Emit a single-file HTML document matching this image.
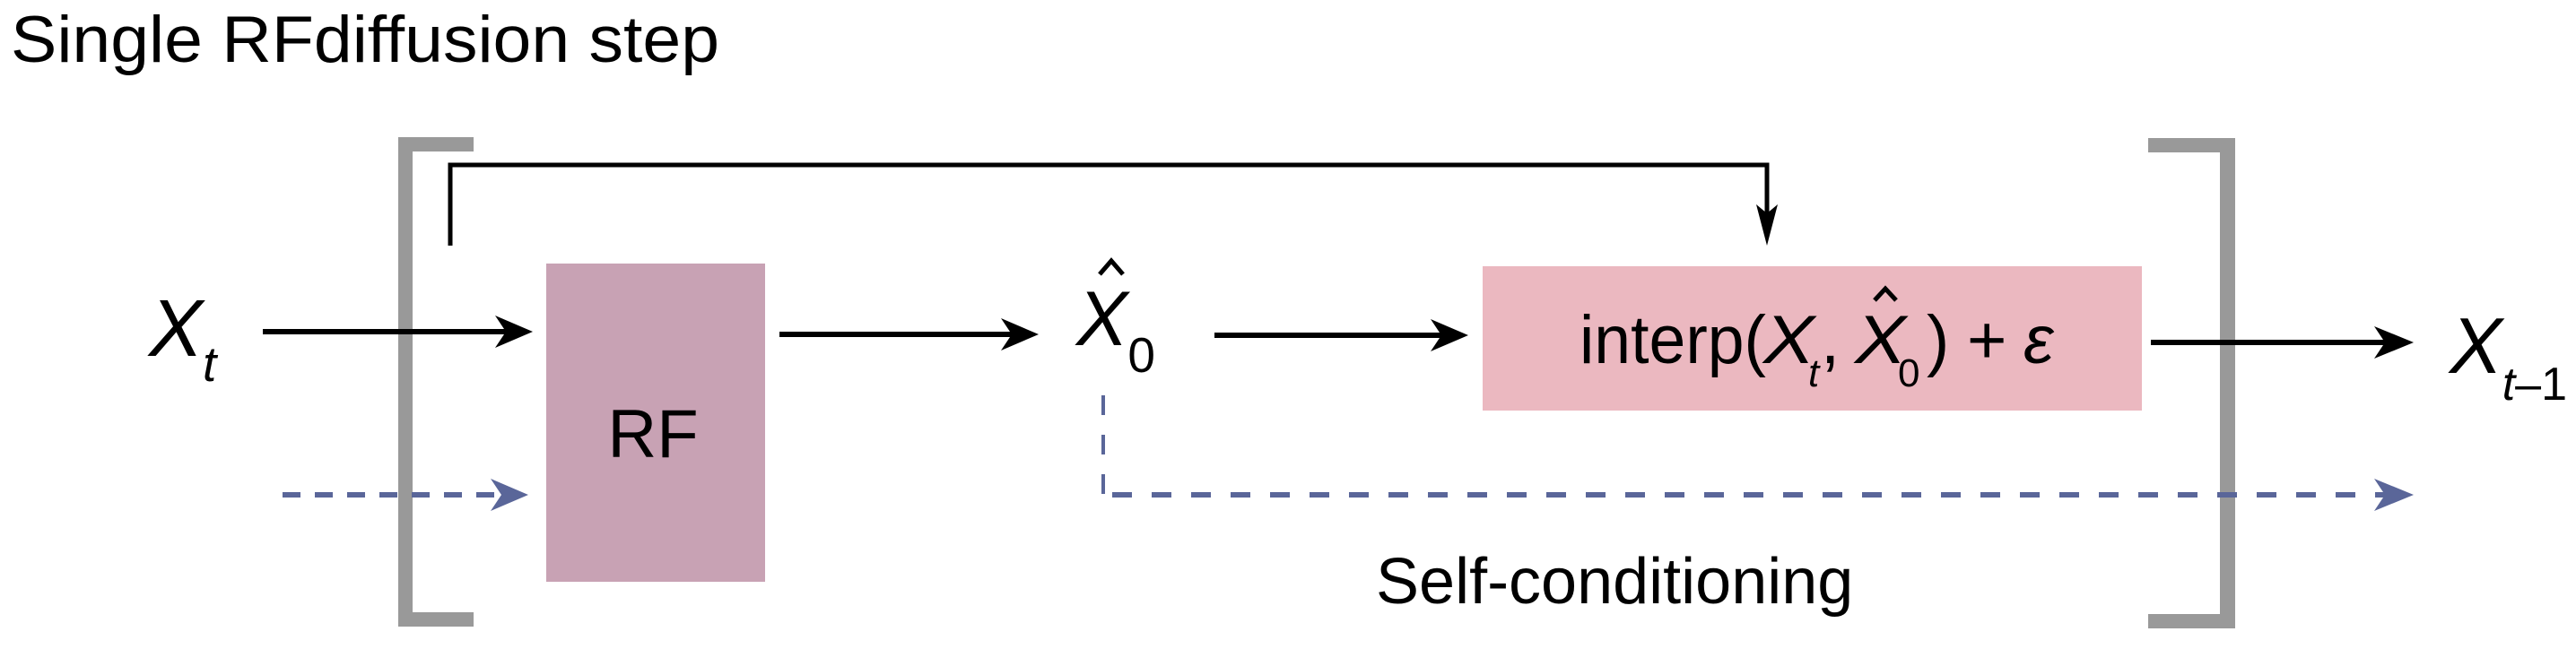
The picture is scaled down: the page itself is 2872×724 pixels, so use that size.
<!DOCTYPE html>
<html><head><meta charset="utf-8"><style>
html,body{margin:0;padding:0;background:#fff;}
svg{display:block;font-family:"Liberation Sans",sans-serif;}
</style></head><body>
<svg width="2872" height="724" viewBox="0 0 2872 724">
<text x="12" y="69" font-size="73" textLength="790" lengthAdjust="spacingAndGlyphs" fill="#000">Single RFdiffusion step</text>

<g fill="#999">
<rect x="444" y="153" width="16" height="546"/>
<rect x="444" y="153" width="84" height="16"/>
<rect x="444" y="683" width="84" height="16"/>
</g>
<g fill="#999">
<rect x="2475" y="154" width="17" height="547"/>
<rect x="2395" y="154" width="97" height="16"/>
<rect x="2395" y="685" width="97" height="16"/>
</g>

<g>
<polyline points="502,274 502,184 1970,184 1970,240" fill="none" stroke="#000" stroke-width="5"/>
<polygon points="1958,228 1970,238 1982,228 1970,274" fill="#000"/>
</g>

<rect x="609" y="294" width="244" height="355" fill="#c8a2b4"/>
<text x="728" y="510" font-size="76" text-anchor="middle">RF</text>

<rect x="1653" y="297" width="735" height="161" fill="#ebb8c0"/>
<g font-size="76">
<text x="1761" y="405" textLength="208" lengthAdjust="spacingAndGlyphs">interp(</text>
<text x="1966" y="405" font-style="italic" textLength="57" lengthAdjust="spacingAndGlyphs">X</text>
<text x="2016" y="431" font-size="44" font-style="italic">t</text>
<text x="2030" y="405">,</text>
<text x="2068" y="405" font-style="italic" textLength="57" lengthAdjust="spacingAndGlyphs">X</text>
<polyline points="2090,335 2102,322 2114,335" fill="none" stroke="#000" stroke-width="5"/>
<text x="2116" y="431" font-size="44">0</text>
<text x="2148" y="405">)</text>
<text x="2193" y="405">+</text>
<text x="2256" y="405" font-style="italic">ε</text>
</g>

<g>
<line x1="293" y1="370" x2="570" y2="370" stroke="#000" stroke-width="6"/>
<polygon points="552,352 594,370 552,388 564,370" fill="#000"/>
</g>
<g>
<line x1="869" y1="373" x2="1135" y2="373" stroke="#000" stroke-width="6"/>
<polygon points="1116,355 1158,373 1116,391 1128,373" fill="#000"/>
</g>
<g>
<line x1="1354" y1="374" x2="1612" y2="374" stroke="#000" stroke-width="6"/>
<polygon points="1595,356 1637,374 1595,392 1607,374" fill="#000"/>
</g>
<g>
<line x1="2398" y1="382" x2="2665" y2="382" stroke="#000" stroke-width="6"/>
<polygon points="2647,364 2691,382 2647,400 2659,382" fill="#000"/>
</g>

<g>
<line x1="315" y1="552" x2="570" y2="552" stroke="#5a6699" stroke-width="6" stroke-dasharray="20,16"/>
<polygon points="547,534 589,552 547,570 559,552" fill="#5a6699"/>
</g>
<g>
<line x1="1230" y1="441" x2="1230" y2="551" stroke="#5a6699" stroke-width="4" stroke-dasharray="22,22"/>
<line x1="1240" y1="552" x2="2660" y2="552" stroke="#5a6699" stroke-width="6" stroke-dasharray="22,22"/>
<polygon points="2647,534 2691,552 2647,570 2659,552" fill="#5a6699"/>
</g>
<text x="1534" y="673" font-size="72">Self-conditioning</text>

<text x="166" y="397" font-size="90" font-style="italic">X<tspan font-size="55" dy="28">t</tspan></text>
<g>
<text x="1200" y="385" font-size="86" font-style="italic">X<tspan font-size="55" font-style="normal" dy="30">0</tspan></text>
<polyline points="1226,306 1239,291 1252,306" fill="none" stroke="#000" stroke-width="5"/>
</g>
<text x="2731" y="416" font-size="88" font-style="italic">X<tspan font-size="52" dy="30">t</tspan><tspan font-size="52" font-style="normal">–1</tspan></text>
</svg>
</body></html>
